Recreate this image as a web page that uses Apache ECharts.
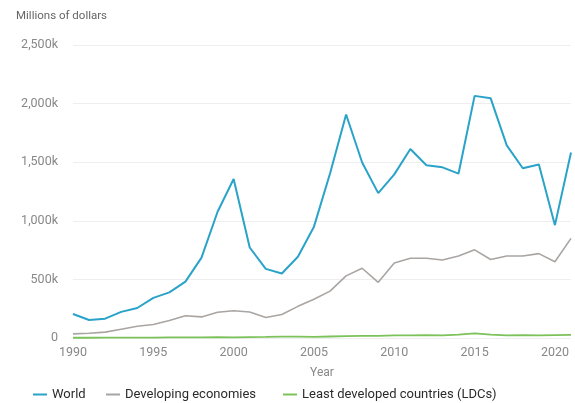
<!DOCTYPE html>
<html>
<head>
<meta charset="utf-8">
<script src="https://cdn.jsdelivr.net/npm/echarts@6/dist/echarts.min.js"></script>
<style>
  html, body { margin: 0; padding: 0; background: #fff; }
  #chart { width: 575px; height: 403px; }
</style>
</head>
<body>
<div id="chart"></div>
<script>
// FDI inflows, millions of dollars
const years = [];
for (let y = 1990; y <= 2021; y++) years.push(String(y));

const world = [205000, 154000, 165000, 223000, 256000, 342000, 389000, 481000, 686000, 1077000,
  1357000, 772000, 590000, 550000, 693000, 950000, 1403000, 1907000, 1497000, 1236000,
  1396000, 1612000, 1474000, 1456000, 1403000, 2066000, 2045000, 1643000, 1448000, 1481000,
  963000, 1582000];
const developing = [35000, 40000, 50000, 75000, 100000, 115000, 150000, 190000, 180000, 220000,
  232000, 222000, 175000, 200000, 270000, 330000, 400000, 530000, 595000, 475000,
  640000, 680000, 680000, 665000, 700000, 752000, 670000, 700000, 700000, 720000,
  650000, 850000];
const ldcs = [2000, 2000, 2500, 3000, 3500, 4000, 5000, 6000, 6000, 7000,
  6000, 8000, 9000, 11000, 11000, 9000, 13000, 16000, 18000, 18000,
  23000, 22000, 25000, 23000, 28000, 40000, 28000, 22000, 24000, 22000,
  24000, 26000];
const seriesNames = ['World', 'Developing economies', 'Least developed countries (LDCs)'];

const myCharts = echarts.init(document.getElementById('chart'));

const fmtY = v => v === 0 ? '0' : (v / 1000).toLocaleString('en-US') + 'k';

const legendAt = (name, left) => ({
  left: left, top: 383,
  icon: 'rect', itemWidth: 14, itemHeight: 2,
  textStyle: { color: '#2b2b2b', fontSize: 13, fontFamily: 'Roboto' },
  data: [name]
});

myCharts.setOption({
  animation: false,
  textStyle: { fontFamily: 'Roboto' },
  grid: { left: 73, right: 4, top: 45, bottom: 65 },
  graphic: [{
    type: 'text', left: 16, top: 10,
    style: { text: 'Millions of dollars', fontFamily: 'Roboto', fontSize: 11.5, fill: '#666' }
  }],
  legend: [
    legendAt(seriesNames[0], 28),
    legendAt(seriesNames[1], 101),
    legendAt(seriesNames[2], 278)
  ],
  xAxis: {
    type: 'category', data: years, boundaryGap: false,
    name: 'Year', nameLocation: 'middle', nameGap: 29,
    nameTextStyle: { color: '#888', fontSize: 12 },
    axisLine: { show: false }, axisTick: { show: false },
    axisLabel: { interval: 4, color: '#888', fontSize: 12.5, margin: 8 }
  },
  yAxis: {
    type: 'value', min: 0, max: 2500000, interval: 500000,
    axisLabel: { formatter: fmtY, color: '#888', fontSize: 12.5, margin: 15 },
    splitLine: { lineStyle: { color: '#eeeeee', width: 1 } }
  },
  series: [
    { name: seriesNames[0], type: 'line', data: world, symbol: 'none', color: '#2aa3c9',
      lineStyle: { width: 2 }, z: 4 },
    { name: seriesNames[1], type: 'line', data: developing, symbol: 'none', color: '#a9a5a2',
      lineStyle: { width: 1.6 }, z: 3 },
    { name: seriesNames[2], type: 'line', data: ldcs, symbol: 'none', color: '#7cc25a',
      lineStyle: { width: 1.8 }, z: 2 }
  ]
});
</script>
</body>
</html>
